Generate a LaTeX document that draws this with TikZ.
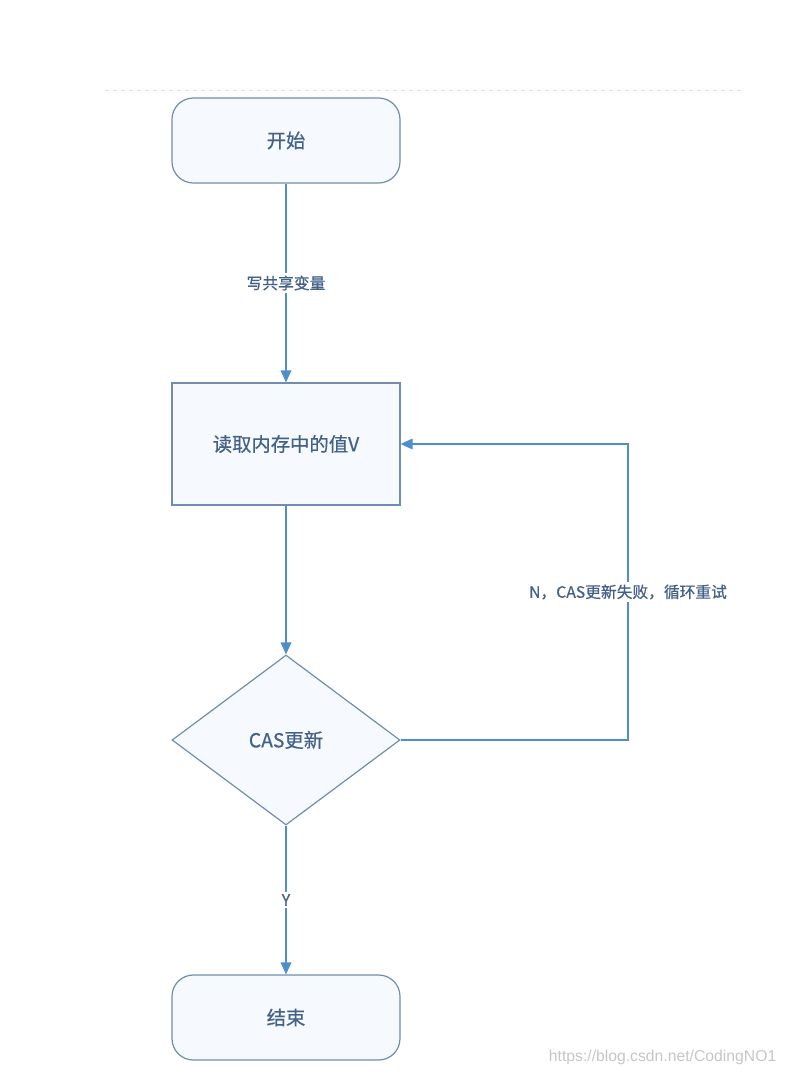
\documentclass[tikz,border=0pt]{standalone}
\usepackage{fontspec}
\setmainfont{Liberation Sans}
\newfontfamily\cjk[FakeBold=0.6]{Noto Sans CJK SC}
\usetikzlibrary{arrows.meta,shapes.geometric}
\definecolor{edgegray}{RGB}{112,142,172}
\definecolor{flowblue}{RGB}{78,142,204}
\definecolor{txtblue}{RGB}{68,98,136}
\definecolor{boxfill}{RGB}{246,249,253}
\begin{document}
\begin{tikzpicture}[x=0.75pt, y=-0.75pt,
    terminal/.style={draw=edgegray, fill=boxfill, line width=0.9pt, rounded corners=16pt, minimum width=171pt, minimum height=63.75pt, font=\cjk\fontsize{14.5}{16}\selectfont, text=txtblue},
    procbox/.style={draw=edgegray, fill=boxfill, line width=0.9pt, minimum width=171pt, minimum height=91.5pt, font=\cjk\fontsize{14.5}{16}\selectfont, text=txtblue},
    decide/.style={diamond, draw=edgegray, fill=boxfill, line width=0.9pt, inner sep=0pt, minimum width=171pt, minimum height=127.5pt, font=\cjk\fontsize{14.5}{16}\selectfont, text=txtblue},
    flow/.style={-{Triangle[length=9pt,width=8pt]}, draw=flowblue, line width=1pt},
    lbl/.style={fill=white, inner sep=2pt, font=\cjk\fontsize{11.8}{13}\selectfont, text=txtblue}]
    \useasboundingbox (0,0) rectangle (787,1075);
    \draw[gray!25, dashed, line width=0.6pt] (105,90) -- (742,90);
    % nodes
    \node[terminal] (start) at (286,140.5) {开始};
    \node[procbox] (read) at (286,444) {读取内存中的值V};
    \node[decide] (cas) at (286,740) {CAS更新};
    \node[terminal] (stop) at (286,1017.5) {结束};
    \coordinate (turn) at (628,740);
    % connectors
    \draw[flow] (start) -- node[lbl] {写共享变量} (read);
    \draw[flow] (read) -- (cas);
    \draw[flow] (cas) -- node[lbl, pos=0.5] {Y} (stop);
    \draw[flow] (cas.east) -- (turn) |- node[lbl, pos=0.25] {N，CAS更新失败，循环重试} (read.east);
    \node[text=gray!45, font=\fontsize{11.8}{13}\selectfont, anchor=east] (mark) at (781,1057) {https://blog.csdn.net/CodingNO1};
\end{tikzpicture}
\end{document}
